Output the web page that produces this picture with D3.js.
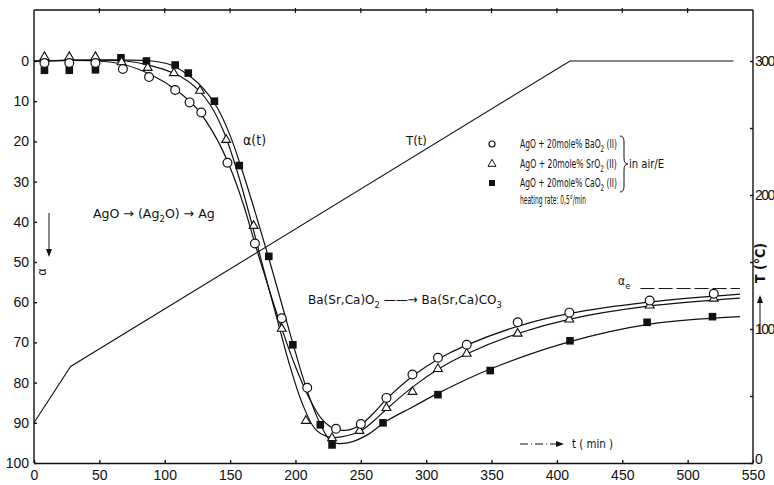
<!DOCTYPE html>
<meta charset="utf-8">
<style>
  body { margin: 0; background: #fff; }
  text { font-family: "Liberation Sans", "DejaVu Sans", sans-serif; fill: #111; }
  .narrow { font-family: "Liberation Sans Narrow", "DejaVu Sans Condensed", sans-serif; }
  .axis path, .axis line { stroke: #111; stroke-width: 1.4; }
  .axis text { font-size: 14px; }
</style>
<body>
<svg id="chart" width="774" height="485"></svg>
</body>
<script src="https://d3js.org/d3.v7.min.js"></script>
<script>

// measured points, [t (min), alpha (%)]
var baO2 = [[8,0.5],[27,0.5],[47,0.5],[68,2],[88,4],[108,7.2],[119,10.3],[128,12.8],[148,25.3],[169,45.4],
  [189.5,64],[209,81.3],[231,91.5],[250,90.3],[269.6,83.8],[289.5,78],[309,73.8],[331,70.6],[370,65],
  [409.5,62.6],[471,59.6],[520,57.9]];
var srO2 = [[8,-1],[27,-1],[47,-1],[67,0.3],[87,1.7],[107,3],[127,7.4],[147,19.6],[168,41],[189.5,66.6],
  [208,89.5],[228,93.8],[249,92],[269.6,86.3],[289.5,82.3],[309,76.6],[331,72.8],[370,67.8],[409.5,64.3],
  [471,60.8],[520,59.1]];
var caO2 = [[8,2.3],[27,2.3],[47,2.2],[66.5,-0.8],[86,0],[108,1],[118,3],[138,10],[157,26],[179.6,48.6],
  [198,70.6],[219,90.5],[228,95.5],[267,90],[309,83],[349,77],[410,69.6],[469,65],[519,63.6]];

// smooth curves drawn through the points
var baO2Fit = [[0,0],[50,0],[70,1],[90,3.5],[110,7.5],[125,12],[140,19.5],[150,26.5],[160,35.5],[170,46.5],
  [180,57],[190,67],[200,76],[210,83.5],[220,89],[230,91.5],[240,91.8],[250,90.5],[260,87.5],[270,84],
  [290,78.3],[310,74],[330,70.8],[370,66],[410,62.8],[470,60],[540,58]];
var srO2Fit = [[0,0],[70,0],[90,1.2],[110,3.5],[125,7],[135,11],[145,17.5],[155,27],[165,38.5],[175,51],
  [185,63],[195,75],[205,85],[215,91.5],[225,93.5],[235,93.5],[250,92],[260,89.5],[270,86.5],[290,81],
  [310,76.5],[330,73],[370,67.8],[410,64.2],[470,61],[540,59]];
var caO2Fit = [[0,0],[90,0],[105,1],[120,4],[130,7],[140,11.5],[150,18.5],[160,28],[170,38.5],[180,49.5],
  [190,61],[200,72.5],[210,83],[220,91],[228,94.8],[240,95],[255,93],[270,89.5],[290,86],[310,82.5],
  [350,76.5],[410,69.8],[470,65.5],[540,63.6]];

// temperature programme, [t (min), T (°C)]
var tempLine = [[0,30],[28,72],[410,300],[535,300]];
var alphaE = [[464,56.6],[540,56.6]];

var xTicks = d3.range(0, 551, 50);
var aTicks = d3.range(0, 101, 10);
var tLabels = [0, 100, 200, 300];
var tMinor = d3.range(0, 301, 50);

var svg = d3.select("#chart");
var x = d3.scaleLinear().domain([0, 550]).range([34, 753]);
var ya = d3.scaleLinear().domain([0, 100]).range([61, 463]);
var yt = d3.scaleLinear().domain([0, 300]).range([463, 61]);
var frameTop = 10;

// frame
svg.append("line").attr("x1", x(0)).attr("x2", x(550)).attr("y1", frameTop).attr("y2", frameTop)
  .attr("stroke", "#111").attr("stroke-width", 1.4);
svg.selectAll(".ttick").data(xTicks.slice(1, -1)).enter().append("line")
  .attr("x1", d => x(d)).attr("x2", d => x(d)).attr("y1", frameTop - 2).attr("y2", frameTop + 3)
  .attr("stroke", "#111").attr("stroke-width", 1.2);

svg.append("g").attr("class", "axis")
  .attr("transform", "translate(0," + ya(100) + ")")
  .call(d3.axisBottom(x).tickValues(xTicks).tickSize(-3).tickPadding(7).tickSizeOuter(0));

var left = svg.append("g").attr("class", "axis")
  .attr("transform", "translate(" + x(0) + ",0)")
  .call(d3.axisLeft(ya).tickValues(aTicks).tickSize(-3).tickPadding(5).tickSizeOuter(0));
left.select(".domain").attr("d", "M0," + frameTop + "V" + ya(100));

var right = svg.append("g").attr("class", "axis")
  .attr("transform", "translate(" + x(550) + ",0)")
  .call(d3.axisRight(yt).tickValues(tMinor).tickSize(-3).tickPadding(2).tickSizeOuter(0)
    .tickFormat(d => tLabels.indexOf(d) >= 0 ? d : ""));
right.select(".domain").attr("d", "M0," + frameTop + "V" + yt(0));
right.selectAll("text").attr("font-size", "12px").attr("x", 2).attr("letter-spacing", "-1.5px")
  .attr("dy", d => d === 0 ? "0.05em" : "0.32em");

// temperature line
svg.append("path").datum(tempLine)
  .attr("fill", "none").attr("stroke", "#111").attr("stroke-width", 1.1)
  .attr("d", d3.line().x(d => x(d[0])).y(d => yt(d[1])));

// fitted curves
var fitLine = d3.line().x(d => x(d[0])).y(d => ya(d[1])).curve(d3.curveCatmullRom.alpha(0.5));
[baO2Fit, srO2Fit, caO2Fit].forEach(function(f) {
  svg.append("path").datum(f).attr("fill", "none").attr("stroke", "#111")
    .attr("stroke-width", 1.2).attr("d", fitLine);
});

svg.append("path").datum(alphaE).attr("fill", "none").attr("stroke", "#111")
  .attr("stroke-width", 1).attr("stroke-dasharray", "14,4")
  .attr("d", d3.line().x(d => x(d[0])).y(d => ya(d[1])));

// markers
var tri = d3.symbol().type(d3.symbolTriangle).size(34);
svg.selectAll(".sq").data(caO2).enter().append("rect")
  .attr("x", d => x(d[0]) - 3.8).attr("y", d => ya(d[1]) - 3.8)
  .attr("width", 7.6).attr("height", 7.6).attr("fill", "#111");
svg.selectAll(".tr").data(srO2).enter().append("path")
  .attr("d", tri).attr("transform", d => "translate(" + x(d[0]) + "," + ya(d[1]) + ")")
  .attr("fill", "#fff").attr("stroke", "#111").attr("stroke-width", 1.1);
svg.selectAll(".ci").data(baO2).enter().append("circle")
  .attr("cx", d => x(d[0])).attr("cy", d => ya(d[1])).attr("r", 4.4)
  .attr("fill", "#fff").attr("stroke", "#111").attr("stroke-width", 1.2);

// annotations: squeeze horizontally to the measured width
function label(xp, yp, parts, size, width) {
  var g = svg.append("g").attr("transform", "translate(" + xp + "," + yp + ")");
  var t = g.append("text").attr("class", "narrow").attr("font-size", size || 12);
  parts.forEach(function(p) {
    if (typeof p === "string") t.append("tspan").text(p);
    else t.append("tspan").attr("dy", p.dy).attr("font-size", p.s || 9).text(p.t);
  });
  if (width) {
    var w = t.node().getComputedTextLength();
    t.attr("transform", "scale(" + (width / w) + ",1)");
  }
  return t;
}
label(93, 218, ["AgO \u2192 (Ag", {t: "2", dy: 4}, {t: "O) \u2192 Ag", dy: -4, s: 13}], 13, 122);
label(243, 145, ["\u03b1(t)"], 14);
label(406, 145, ["T(t)"], 13);
label(308, 304, ["Ba(Sr,Ca)O", {t: "2", dy: 4}, {t: " \u2014\u2014\u2192 Ba(Sr,Ca)CO", dy: -4, s: 13}, {t: "3", dy: 4}], 13, 194);
label(618, 285, ["\u03b1", {t: "e", dy: 4}], 12);
label(572, 448, ["t ( min )"], 12, 41);

svg.append("line").attr("x1", 520).attr("x2", 560).attr("y1", 444).attr("y2", 444)
  .attr("stroke", "#111").attr("stroke-dasharray", "8,3,1,3");
svg.append("path").attr("d", "M564,444 l-8,-3 v6 z").attr("fill", "#111");

// left axis symbol
svg.append("line").attr("x1", 49).attr("x2", 49).attr("y1", 213).attr("y2", 250).attr("stroke", "#111");
svg.append("path").attr("d", "M49,257 l-3,-8 h6 z").attr("fill", "#111");
svg.append("text").attr("transform", "translate(46,272) rotate(-90)").attr("text-anchor", "middle")
  .attr("font-size", 12).text("\u03b1");

// right axis title
svg.append("line").attr("x1", 760).attr("x2", 760).attr("y1", 333).attr("y2", 302).attr("stroke", "#111");
svg.append("path").attr("d", "M760,295 l-3,8 h6 z").attr("fill", "#111");
svg.append("text").attr("class", "narrow").attr("transform", "translate(765,263) rotate(-90)")
  .attr("text-anchor", "middle").attr("font-size", 14).attr("font-weight", "bold").text("T (\u00b0C)");

// legend
var legY = [144, 164, 183];
var legNames = [["BaO", "(II)"], ["SrO", "(II)"], ["CaO", "(II)"]];
svg.append("circle").attr("cx", 492).attr("cy", legY[0]).attr("r", 3).attr("fill", "#fff")
  .attr("stroke", "#111").attr("stroke-width", 1.2);
svg.append("path").attr("d", d3.symbol().type(d3.symbolTriangle).size(28))
  .attr("transform", "translate(492," + legY[1] + ")").attr("fill", "#fff").attr("stroke", "#111");
svg.append("rect").attr("x", 489).attr("y", legY[2] - 3).attr("width", 6).attr("height", 6).attr("fill", "#111");
legNames.forEach(function(n, i) {
  label(520, legY[i] + 4, ["AgO + 20mole% " + n[0], {t: "2", dy: 4}, {t: " " + n[1], dy: -4, s: 12}], 12, 97);
});
label(520, 204, ["heating rate: 0,5\u00b0/min"], 12, 66);
svg.append("path").attr("d", "M620,136 q4,0 4,6 v16 q0,6 4,6 q-4,0 -4,6 v16 q0,6 -4,6")
  .attr("fill", "none").attr("stroke", "#111").attr("stroke-width", 1);
label(629, 168, ["in air/E"], 12, 35);

</script>
